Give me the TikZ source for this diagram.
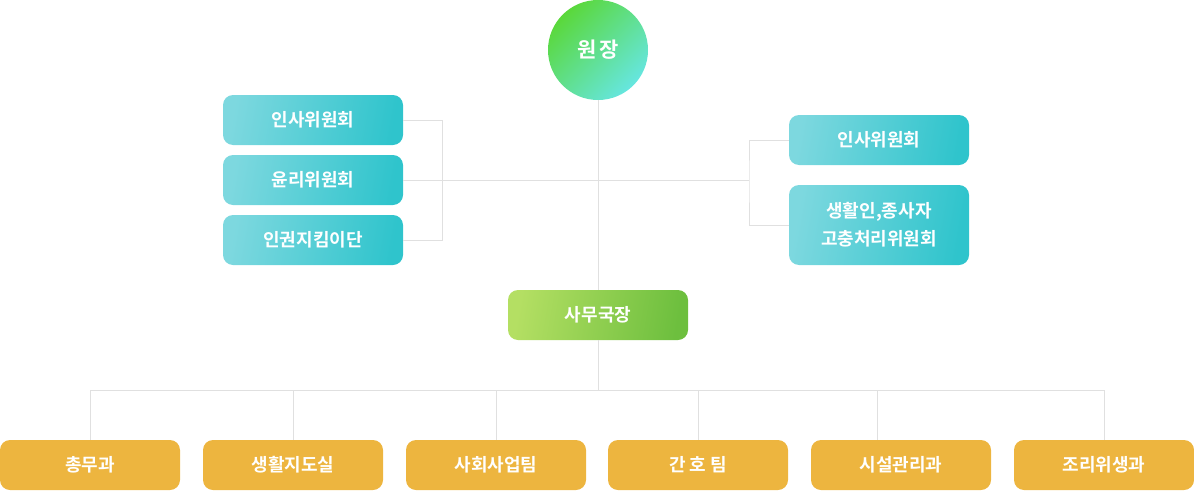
\documentclass[tikz,border=0pt]{standalone}
\usepackage{fontspec}
\newfontfamily\kr{Noto Sans CJK KR}[BoldFont={Noto Sans CJK KR Bold}]
\usetikzlibrary{calc}
\definecolor{lineg}{HTML}{E0E0E0}
\definecolor{tealL}{HTML}{7DD8DF}
\definecolor{tealR}{HTML}{2FC4CC}
\definecolor{grnL}{HTML}{B4DF63}
\definecolor{grnR}{HTML}{6DBF3E}
\definecolor{gold}{HTML}{EDB53F}
\definecolor{topG}{HTML}{5AD83A}
\definecolor{topC}{HTML}{66E6E0}
\tikzset{
  conn/.style={draw=lineg, line width=1pt},
  basebox/.style={rectangle, rounded corners=10pt, minimum width=180pt, minimum height=50pt, inner sep=0pt, text=white, font=\kr\bfseries\fontsize{18}{28}\selectfont, align=center},
  tealbox/.style={basebox, left color=tealL, right color=tealR, shading angle=80},
  grnbox/.style={basebox, left color=grnL, right color=grnR, shading angle=80},
  goldbox/.style={basebox, fill=gold},
}
\begin{document}
\begin{tikzpicture}[x=1pt, y=-1pt]
\useasboundingbox (0,0) rectangle (1194,490);
% nodes
\node[circle, minimum size=100pt, inner sep=0pt, left color=topG, right color=topC, shading angle=45, text=white, font=\kr\bfseries\fontsize{21}{26}\selectfont] (boss) at (598,50) {원\hspace{3pt}장};
\node[tealbox] (l1) at (313,120) {인사위원회};
\node[tealbox] (l2) at (313,180) {윤리위원회};
\node[tealbox] (l3) at (313,240) {인권지킴이단};
\node[tealbox] (r1) at (879,140) {인사위원회};
\node[tealbox, minimum height=80pt] (r2) at (879,225) {생활인,종사자\\고충처리위원회};
\node[grnbox] (samu) at (598,315) {사무국장};
\node[goldbox] (b1) at (90,465) {총무과};
\node[goldbox] (b2) at (293,465) {생활지도실};
\node[goldbox] (b3) at (496,465) {사회사업팀};
\node[goldbox] (b4) at (698,465) {간 호 팀};
\node[goldbox] (b5) at (901,465) {시설관리과};
\node[goldbox] (b6) at (1104,465) {조리위생과};
\coordinate (rj) at (749,180);
\coordinate (bj) at (598,390);
\coordinate (b5d) at ($(b5.north west)+(67,0)$);
% connectors
\draw[conn] (boss.south) -- (samu.north);
\draw[conn] (l1.east) -- ++(39,0) |- (l3.east);
\draw[conn] (l2.east) -- (rj);
\draw[conn] (r1.west) -| (rj) |- (r2.west);
\draw[conn] (samu.south) -- (bj);
\draw[conn] (b1.north |- bj) -- (b6.north |- bj);
\draw[conn] (b1.north) -- (b1.north |- bj);
\draw[conn] (b2.north) -- (b2.north |- bj);
\draw[conn] (b3.north) -- (b3.north |- bj);
\draw[conn] (b4.north) -- (b4.north |- bj);
\draw[conn] (b5d) -- (b5d |- bj);
\draw[conn] (b6.north) -- (b6.north |- bj);
\end{tikzpicture}
\end{document}
